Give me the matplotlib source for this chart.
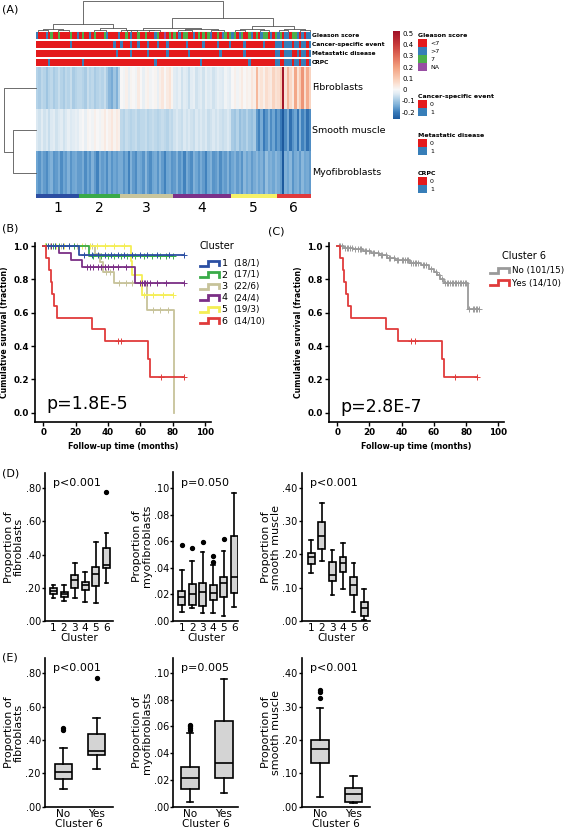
import numpy as np
import matplotlib
matplotlib.use('Agg')
import matplotlib.pyplot as plt
from matplotlib.colors import ListedColormap, LinearSegmentedColormap, Normalize
from matplotlib.cm import ScalarMappable
from matplotlib.patches import Rectangle
from matplotlib.ticker import FuncFormatter
from matplotlib.transforms import blended_transform_factory

W, H = 569, 833

# ---------------- (A) heatmap data ----------------
cluster_names = ['1', '2', '3', '4', '5', '6']
cluster_sizes = [18, 17, 22, 24, 19, 14]
cluster_colors = ['#2c4ea2', '#3aaa48', '#c9c59c', '#7c3189', '#f6f168', '#e1393b']
cell_types = ['Fibroblasts', 'Smooth muscle', 'Myofibroblasts']

fibroblasts_score = [
    -0.08, -0.09, -0.07, -0.08, -0.10, -0.08, -0.07, -0.09, -0.08, -0.06, -0.08, -0.09, -0.07, -0.08, -0.06, -0.09, -0.08, -0.07,
    -0.07, -0.08, -0.09, -0.06, -0.08, -0.07, -0.09, -0.08, -0.07, -0.08, -0.06, -0.09, -0.12, -0.14, -0.10, -0.13, -0.08,
    0.00, -0.01, 0.02, -0.02, 0.01, 0.00, -0.01, 0.03, 0.00, -0.02, 0.01, 0.02, -0.01, 0.00, 0.01, -0.02, 0.02, 0.04, 0.00, 0.03, 0.05, 0.01,
    -0.03, -0.04, -0.02, -0.05, -0.03, -0.04, -0.06, -0.03, -0.02, -0.05, -0.04, -0.03, -0.05, -0.02, -0.04, -0.03, -0.05, -0.04, -0.02, -0.03, -0.04, -0.01, -0.02, -0.03,
    0.00, 0.02, -0.01, 0.01, 0.03, 0.00, 0.02, 0.01, 0.04, 0.02, 0.14, 0.03, 0.05, 0.02, 0.06, 0.04, 0.03, 0.08, 0.05,
    0.06, 0.10, 0.50, 0.05, 0.15, 0.07, 0.03, 0.18, 0.05, 0.10, 0.22, 0.06, 0.17, 0.08]
smooth_muscle_score = [
    -0.04, -0.05, -0.03, -0.05, -0.04, -0.06, -0.04, -0.03, -0.05, -0.04, -0.03, -0.05, -0.04, -0.02, -0.04, -0.03, -0.02, -0.03,
    -0.01, 0.00, -0.02, 0.01, 0.00, -0.01, 0.02, 0.00, -0.01, 0.01, 0.03, 0.00, 0.02, 0.04, 0.01, 0.03, 0.02,
    -0.07, -0.08, -0.06, -0.07, -0.08, -0.07, -0.06, -0.08, -0.07, -0.07, -0.06, -0.08, -0.07, -0.06, -0.07, -0.08, -0.07, -0.06, -0.07, -0.08, -0.06, -0.07,
    -0.05, -0.04, -0.05, -0.06, -0.04, -0.05, -0.04, -0.05, -0.06, -0.04, -0.05, -0.04, -0.05, -0.04, -0.06, -0.05, -0.04, -0.05, -0.04, -0.05, -0.06, -0.05, -0.04, -0.05,
    -0.09, -0.10, -0.08, -0.11, -0.09, -0.10, -0.08, -0.10, -0.11, -0.09, -0.16, -0.19, -0.14, -0.20, -0.17, -0.13, -0.18, -0.15, -0.19,
    -0.16, -0.20, -0.30, -0.18, -0.14, -0.22, -0.17, -0.15, -0.21, -0.13, -0.19, -0.16, -0.22, -0.18]
myofibroblasts_score = [
    -0.15, -0.17, -0.14, -0.16, -0.18, -0.15, -0.13, -0.17, -0.16, -0.14, -0.18, -0.15, -0.16, -0.13, -0.17, -0.15, -0.14, -0.16,
    -0.16, -0.14, -0.18, -0.15, -0.17, -0.13, -0.16, -0.19, -0.14, -0.16, -0.15, -0.18, -0.14, -0.17, -0.15, -0.16, -0.14,
    -0.14, -0.17, -0.15, -0.19, -0.13, -0.16, -0.18, -0.14, -0.15, -0.17, -0.12, -0.16, -0.18, -0.15, -0.14, -0.17, -0.13, -0.16, -0.19, -0.15, -0.14, -0.17,
    -0.16, -0.13, -0.17, -0.15, -0.19, -0.14, -0.16, -0.18, -0.13, -0.15, -0.17, -0.14, -0.16, -0.19, -0.15, -0.13, -0.17, -0.16, -0.14, -0.18, -0.15, -0.16, -0.13, -0.17,
    -0.15, -0.13, -0.16, -0.14, -0.17, -0.12, -0.15, -0.13, -0.16, -0.14, -0.12, -0.15, -0.13, -0.16, -0.11, -0.14, -0.13, -0.15, -0.12,
    -0.14, -0.16, -0.28, -0.13, -0.15, -0.12, -0.17, -0.14, -0.13, -0.16, -0.12, -0.15, -0.14, -0.16]

# annotation tracks, one character per sample (split by cluster)
gleason = ''.join(['HLLLHLSLLSLLLLSLLH', 'LSLLHLSLLLSHLLLLH', 'LLSLHLLSLLSLLLHSLLNLSL',
                   'SLHLSSLLHLSLSLSHLLSLHSLS', 'HSLHSLLSHLSLHSSLHLS', 'HSLHHLSSHLHLHH'])
cancer_event = ''.join(['000000000000001000', '00000000000000100', '1000100100010001000100',
                        '000001000000100000100001', '0000010000000100001', '11011101101101'])
metastatic = ''.join(['000000000000000000', '00000000000000010', '0000100000010000000100',
                      '000000100000000000010000', '0000010000000000001', '10011100101101'])
crpc = ''.join(['000001000000000000', '01000000000000000', '0000000000000010000000',
                '000000000001000000000000', '0000000100000000001', '10011101101101'])

gleason_codes = ['L', 'H', 'S', 'N']
gleason_labels = ['<7', '>7', '7', 'NA']
gleason_colors = ['#e41a1c', '#377eb8', '#4daf4a', '#984ea3']
binary_colors = ['#e41a1c', '#377eb8']
track_names = ['Gleason score', 'Cancer-specific event', 'Metastatic disease', 'CRPC']

# dendrogram links: (x_left, x_right, height, left_bottom, right_bottom)
col_links = [(19.6, 77.7, 1.0, 0.23, 0.43), (7.2, 32.0, 0.23, 0.08, 0.09), (3.0, 11.4, 0.08, 0.03, 0.04),
             (26.5, 37.5, 0.09, 0.04, 0.02), (56.7, 98.75, 0.43, 0.10, 0.17), (44.6, 68.8, 0.10, 0.04, 0.05),
             (40.0, 49.2, 0.04, 0.02, 0.02), (62.0, 75.6, 0.05, 0.02, 0.03), (90.0, 107.5, 0.17, 0.06, 0.07),
             (85.0, 95.0, 0.06, 0.02, 0.03), (103.0, 112.0, 0.07, 0.03, 0.02), (1.0, 5.0, 0.03, 0, 0),
             (9.0, 13.8, 0.04, 0, 0), (24.0, 29.0, 0.04, 0, 0), (35.5, 39.5, 0.02, 0, 0),
             (38.0, 42.0, 0.02, 0, 0), (47.0, 51.4, 0.02, 0, 0), (59.0, 65.0, 0.02, 0, 0),
             (73.0, 78.2, 0.03, 0, 0), (83.0, 87.0, 0.02, 0, 0), (93.0, 97.0, 0.03, 0, 0),
             (101.0, 105.0, 0.03, 0, 0), (110.0, 114.0, 0.02, 0, 0)]
row_links = [(1.5, 2.5, 0.64, 0, 0), (0.5, 2.0, 0.89, 0, 0.64)]

# ---------------- (B)/(C) survival data ----------------
km_counts = ['(18/1)', '(17/1)', '(22/6)', '(24/4)', '(19/3)', '(14/10)']
km_colors = ['#2c4fa3', '#3aab49', '#c7c39a', '#7b2f86', '#f4ee55', '#e03b3b']
km_event_times = [[22], [28], [32, 35, 37, 44, 64, 81], [10, 17, 24, 57], [54.5, 55, 61],
                  [1.5, 3.5, 4.5, 5.5, 6.5, 8.5, 30, 38, 65, 66]]
km_event_surv = [[0.944], [0.941], [0.955, 0.905, 0.846, 0.776, 0.616, 0.0], [0.958, 0.917, 0.875, 0.78],
                 [0.91, 0.826, 0.706], [0.929, 0.857, 0.786, 0.714, 0.643, 0.571, 0.5, 0.429, 0.321, 0.214]]
km_censored = [[3, 7, 12, 16, 25, 30, 34, 38, 42, 46, 50, 55, 60, 64, 70, 78, 87],
               [2, 6, 10, 19, 31, 36, 40, 44, 48, 52, 57, 62, 67, 72, 76, 80],
               [1, 4, 7, 11, 16, 21, 26, 30, 39, 41, 47, 51, 55, 68, 72, 77],
               [5, 27, 29, 31, 34, 36, 38, 40, 43, 46, 51, 60, 61, 62, 63, 64, 66, 70, 76, 87],
               [1, 3, 5, 8, 13, 19, 24, 29, 33, 38, 44, 50, 62, 68, 74, 80],
               [46, 48, 73, 87]]
km_end = [87, 80, 81, 87, 80, 87]

c6_labels = ['No', 'Yes']
c6_counts = ['(101/15)', '(14/10)']
c6_colors = ['#9a9a9a', '#e03b3b']
no_event_times = [4, 10, 16, 21, 26, 31, 36, 45, 52, 57, 60, 62, 64, 66, 81]
no_event_surv = [0.99, 0.98, 0.97, 0.96, 0.945, 0.93, 0.915, 0.90, 0.885, 0.865, 0.845, 0.825, 0.80, 0.78, 0.62]
no_censored = [1, 2, 3, 5, 6, 7, 8, 9, 11, 13, 14, 15, 17, 18, 20, 22, 23, 25, 27, 28, 30, 32, 33, 35, 37,
               38, 40, 41, 42, 43, 44, 46, 47, 48, 49, 50, 53, 54, 55, 58, 61, 63, 65, 67, 68, 69, 70, 71,
               72, 73, 74, 75, 76, 77, 78, 79, 80, 82, 84, 85, 86, 87, 88]
no_end = 88

# ---------------- (D)/(E) box plot summaries ----------------
fib_cl = dict(q1=[0.161, 0.145, 0.195, 0.185, 0.21, 0.316], med=[0.18, 0.16, 0.246, 0.216, 0.28, 0.337],
              q3=[0.20, 0.175, 0.276, 0.232, 0.327, 0.437], lo=[0.135, 0.12, 0.135, 0.115, 0.105, 0.226],
              hi=[0.215, 0.215, 0.347, 0.296, 0.478, 0.532], out=[[], [], [], [], [], [0.78]])
myo_cl = dict(q1=[0.0118, 0.0118, 0.0113, 0.016, 0.0176, 0.021], med=[0.018, 0.020, 0.022, 0.021, 0.0287, 0.033],
              q3=[0.0227, 0.0275, 0.0287, 0.027, 0.033, 0.064], lo=[0.0068, 0.0093, 0.0055, 0.0055, 0.0035, 0.0106],
              hi=[0.038, 0.045, 0.052, 0.042, 0.053, 0.0967], out=[[0.057], [0.055], [0.0597], [0.049, 0.044], [0.0615], []])
smc_cl = dict(q1=[0.171, 0.2166, 0.121, 0.146, 0.0776, 0.0141], med=[0.191, 0.256, 0.138, 0.173, 0.108, 0.0373],
              q3=[0.2055, 0.297, 0.176, 0.191, 0.131, 0.0574], lo=[0.145, 0.180, 0.0776, 0.0947, 0.0272, 0.002],
              hi=[0.244, 0.355, 0.2136, 0.234, 0.173, 0.0947], out=[[], [], [], [], [], []])
fib_c6 = dict(q1=[0.164, 0.31], med=[0.21, 0.334], q3=[0.256, 0.434], lo=[0.106, 0.224], hi=[0.35, 0.53],
              out=[[0.46, 0.47], [0.774]])
myo_c6 = dict(q1=[0.013, 0.0213], med=[0.0213, 0.0325], q3=[0.030, 0.064], lo=[0.0033, 0.0105], hi=[0.0555, 0.0955],
              out=[[0.0575, 0.059, 0.060, 0.061], []])
smc_c6 = dict(q1=[0.13, 0.015], med=[0.172, 0.037], q3=[0.20, 0.057], lo=[0.03, 0.01], hi=[0.295, 0.092],
              out=[[0.325, 0.345, 0.35], []])

fig = plt.figure(figsize=(W / 100, H / 100), dpi=100)


def add_ax(l, t, r, b):
    return fig.add_axes([l / W, 1 - b / H, (r - l) / W, (b - t) / H])


# full-figure overlay for free text, legends and labels (pixel coordinates)
ov = add_ax(0, 0, W, H)
ov.set_xlim(0, W)
ov.set_ylim(H, 0)
ov.axis('off')
ov.set_zorder(10)
ov.patch.set_alpha(0)

# ---------------- panel A ----------------
n = len(fibroblasts_score)
cmap = LinearSegmentedColormap.from_list('hm', [
    (0.0, '#1d5a9e'), (0.077, '#3a7cba'), (0.141, '#6fa6d3'), (0.231, '#b5d3e8'), (0.282, '#dce9f2'),
    (0.333, '#f7f7f7'), (0.397, '#fbe3d6'), (0.462, '#f9cbb3'), (0.59, '#f2a07f'), (0.718, '#e06b58'),
    (0.846, '#c73a3a'), (1.0, '#a00f26')])
norm = Normalize(-0.26, 0.52)

hm = add_ax(36, 66.7, 310, 194)
hm.imshow(np.array([fibroblasts_score, smooth_muscle_score, myofibroblasts_score]), aspect='auto',
          cmap=cmap, norm=norm, interpolation='nearest', extent=(0, n, 3, 0))
hm.axis('off')
for i, name in enumerate(cell_types):
    hm.text(1.008, 1 - (i + 0.5) / 3, name, transform=hm.transAxes, fontsize=6.8, va='center', ha='left')

tracks = [([gleason_codes.index(c) for c in gleason], gleason_colors),
          ([int(c) for c in cancer_event], binary_colors),
          ([int(c) for c in metastatic], binary_colors),
          ([int(c) for c in crpc], binary_colors)]
for k, (codes, cols) in enumerate(tracks):
    top = 31.7 + k * 9
    ta = add_ax(36, top, 310, top + 7.8)
    ta.imshow(np.array([codes]), aspect='auto', cmap=ListedColormap(cols), vmin=-0.5, vmax=len(cols) - 0.5,
              interpolation='nearest', extent=(0, n, 1, 0))
    ta.axis('off')
    ta.text(1.008, 0.5, track_names[k], transform=ta.transAxes, fontsize=4.3, fontweight='bold',
            va='center', ha='left')

cb = add_ax(36, 194.2, 310, 198)
cl_index = np.repeat(np.arange(len(cluster_sizes)), cluster_sizes)
cb.imshow(cl_index[None, :], aspect='auto', cmap=ListedColormap(cluster_colors), vmin=-0.5,
          vmax=len(cluster_sizes) - 0.5, interpolation='nearest', extent=(0, n, 1, 0))
cb.axis('off')
centers = np.cumsum(cluster_sizes) - np.array(cluster_sizes) / 2
tr = blended_transform_factory(cb.transData, cb.transAxes)
for c, name in zip(centers, cluster_names):
    cb.text(c, -2.6, name, transform=tr, ha='center', va='center', fontsize=10)

dg = add_ax(36, 1, 310, 31)
for xl, xr, h, hl, hr in col_links:
    dg.plot([xl, xl, xr, xr], [hl, h, h, hr], color='#555555', lw=0.6, clip_on=False)
dg.set_xlim(0, n)
dg.set_ylim(0, 1)
dg.axis('off')

rd = add_ax(0, 66.7, 36, 194)
for ya, yb, h, ha, hb in row_links:
    rd.plot([ha, h, h, hb], [ya, ya, yb, yb], color='#555555', lw=0.6, clip_on=False)
rd.set_xlim(1.0, 0)
rd.set_ylim(3, 0)
rd.axis('off')

cax = add_ax(393, 31, 400, 119)
cbar = fig.colorbar(ScalarMappable(norm=norm, cmap=cmap), cax=cax)
cbar.set_ticks([-0.2, -0.1, 0, 0.1, 0.2, 0.3, 0.4, 0.5])
cbar.set_ticklabels(['-0.2', '-0.1', '0', '0.1', '0.2', '0.3', '0.4', '0.5'])
cbar.outline.set_visible(False)
cax.tick_params(length=0, labelsize=5, pad=1.5)

legend_blocks = [('Gleason score', gleason_labels, gleason_colors, 35),
                 ('Cancer-specific event', ['0', '1'], binary_colors, 96),
                 ('Metastatic disease', ['0', '1'], binary_colors, 135),
                 ('CRPC', ['0', '1'], binary_colors, 173)]
for title, labs, cols, ty in legend_blocks:
    ov.text(418, ty, title, fontsize=4.5, fontweight='bold', va='center', ha='left')
    for j, (lab, col) in enumerate(zip(labs, cols)):
        y0 = ty + 4 + j * 8
        ov.add_patch(Rectangle((418, y0), 9, 8, color=col, lw=0))
        ov.text(430, y0 + 4.3, lab, fontsize=4.5, va='center', ha='left')

# ---------------- panels B, C ----------------


def km_curve(ax, ev_t, ev_s, cens, end, color):
    t = [0] + list(ev_t) + [end]
    s = [1] + list(ev_s) + [ev_s[-1]]
    ax.step(t, s, where='post', color=color, lw=1.3)
    idx = np.searchsorted(ev_t, cens, side='right')
    sc = np.r_[1, ev_s][idx]
    ax.plot(cens, sc, '+', color=color, ms=4, mew=0.7)


def km_axes(l, r):
    ax = add_ax(l, 243, r, 421.7)
    ax.set_xlim(-5.1, 103.5)
    ax.set_ylim(-0.054, 1.018)
    for s in ['top', 'right']:
        ax.spines[s].set_visible(False)
    for s in ['left', 'bottom']:
        ax.spines[s].set_linewidth(1.2)
    ax.set_xticks([0, 20, 40, 60, 80, 100])
    ax.set_yticks([0, 0.2, 0.4, 0.6, 0.8, 1.0])
    ax.yaxis.set_major_formatter(FuncFormatter(lambda v, _: f'{v:.1f}'))
    ax.tick_params(length=3, width=1, labelsize=6.3, pad=1.5)
    for lab in ax.get_xticklabels() + ax.get_yticklabels():
        lab.set_fontweight('bold')
    return ax


axb = km_axes(35, 210.7)
for i in [2, 4, 3, 1, 0, 5]:
    km_curve(axb, km_event_times[i], km_event_surv[i], km_censored[i], km_end[i], km_colors[i])
axc = km_axes(329, 504)
km_curve(axc, no_event_times, no_event_surv, no_censored, no_end, c6_colors[0])
km_curve(axc, km_event_times[5], km_event_surv[5], km_censored[5], km_end[5], c6_colors[1])

for cx, lx in [(123, 5), (416, 299)]:
    ov.text(cx, 446, 'Follow-up time (months)', fontsize=5.8, fontweight='bold', ha='center', va='center')
    ov.text(lx, 332, 'Cumulative survival (fraction)', fontsize=5.6, fontweight='bold', ha='center',
            va='center', rotation=90)
ov.text(87, 404, 'p=1.8E-5', fontsize=12.5, ha='center', va='center')
ov.text(381, 407, 'p=2.8E-7', fontsize=12.5, ha='center', va='center')


def step_icon(x0, y, color):
    ov.plot([x0, x0 + 8, x0 + 8, x0 + 19, x0 + 19], [y + 2.5, y + 2.5, y - 2.5, y - 2.5, y + 2.2],
            color=color, lw=2.0, solid_joinstyle='miter')


ov.text(200, 246, 'Cluster', fontsize=7, va='center', ha='left')
for i in range(6):
    y = 263 + i * 11.5
    step_icon(200, y, km_colors[i])
    ov.text(221.5, y + 0.5, cluster_names[i], fontsize=6.8, va='center', ha='left')
    ov.text(233, y + 0.5, km_counts[i], fontsize=6.3, va='center', ha='left')

ov.text(502, 256, 'Cluster 6', fontsize=7, va='center', ha='left')
for i in range(2):
    y = 270 + i * 12.7
    step_icon(490, y, c6_colors[i])
    ov.text(512, y + 0.5, c6_labels[i] + ' ' + c6_counts[i], fontsize=6.3, va='center', ha='left')

# ---------------- panels D, E ----------------


def box_panel(l, t, r, b, stats, labels, xlim, ytop, yticks, ylabel, xlabel, ptxt, width, capw, py):
    ax = add_ax(l, t, r, b)
    bx = [dict(med=stats['med'][i], q1=stats['q1'][i], q3=stats['q3'][i], whislo=stats['lo'][i],
               whishi=stats['hi'][i], fliers=stats['out'][i]) for i in range(len(labels))]
    ax.bxp(bx, positions=np.arange(1, len(labels) + 1), widths=width, capwidths=capw, patch_artist=True,
           boxprops=dict(facecolor='#d4d4d4', edgecolor='black', linewidth=1.2),
           medianprops=dict(color='black', linewidth=1.2),
           whiskerprops=dict(color='black', linewidth=1.2), capprops=dict(color='black', linewidth=1.2),
           flierprops=dict(marker='o', markerfacecolor='black', markeredgecolor='black', markersize=2.8))
    ax.set_xlim(*xlim)
    ax.set_ylim(0, ytop)
    ax.set_yticks(yticks)
    ax.yaxis.set_major_formatter(FuncFormatter(lambda v, _: f'{v:.2f}'[1:]))
    ax.set_xticks(np.arange(1, len(labels) + 1))
    ax.set_xticklabels(labels)
    for s in ['top', 'right']:
        ax.spines[s].set_visible(False)
    for s in ['left', 'bottom']:
        ax.spines[s].set_linewidth(1.2)
    ax.tick_params(axis='y', length=2.5, width=1, labelsize=7, pad=0.5)
    ax.tick_params(axis='x', length=0, labelsize=7.6, pad=1.5)
    ov.text(l - 31, (t + b) / 2, ylabel, rotation=90, fontsize=8, ha='center', va='center',
            multialignment='center', linespacing=1.0)
    ov.text((l + r) / 2, b + 17.5 if len(labels) == 2 else b + 17, xlabel, fontsize=7.6, ha='center',
            va='center')
    ov.text(l + 32, py, ptxt, fontsize=8, ha='center', va='center')
    return ax


box_panel(45, 473.3, 113.3, 620.7, fib_cl, cluster_names, (0.2, 6.65), 0.891, [0, .2, .4, .6, .8],
          'Proportion of\nfibroblasts', 'Cluster', 'p<0.001', 0.65, 0.35, 483)
box_panel(173.3, 471.7, 238.3, 620.7, myo_cl, cluster_names, (0.2, 6.4), 0.1126, [0, .02, .04, .06, .08, .10],
          'Proportion of\nmyofibroblasts', 'Cluster', 'p=0.050', 0.65, 0.35, 483)
box_panel(301.7, 473.3, 370, 620.7, smc_cl, cluster_names, (0.1, 6.55), 0.445, [0, .1, .2, .3, .4],
          'Proportion of\nsmooth muscle', 'Cluster', 'p<0.001', 0.65, 0.35, 483)

box_panel(45, 658.3, 113.3, 806.7, fib_c6, c6_labels, (0.45, 2.5), 0.89, [0, .2, .4, .6, .8],
          'Proportion of\nfibroblasts', 'Cluster 6', 'p<0.001', 0.52, 0.2, 668)
box_panel(173.3, 658.3, 238.3, 806.7, myo_c6, c6_labels, (0.51, 2.42), 0.111, [0, .02, .04, .06, .08, .10],
          'Proportion of\nmyofibroblasts', 'Cluster 6', 'p=0.005', 0.52, 0.2, 668)
box_panel(301.7, 658.3, 370, 806.7, smc_c6, c6_labels, (0.45, 2.5), 0.445, [0, .1, .2, .3, .4],
          'Proportion of\nsmooth muscle', 'Cluster 6', 'p<0.001', 0.52, 0.2, 668)

# panel letters
for txt, x, y in [('(A)', 2, 9), ('(B)', 2, 228), ('(C)', 268, 231), ('(D)', 2, 473), ('(E)', 2, 658)]:
    ov.text(x, y, txt, fontsize=8, ha='left', va='center')

fig.savefig('out.png', dpi=100)
